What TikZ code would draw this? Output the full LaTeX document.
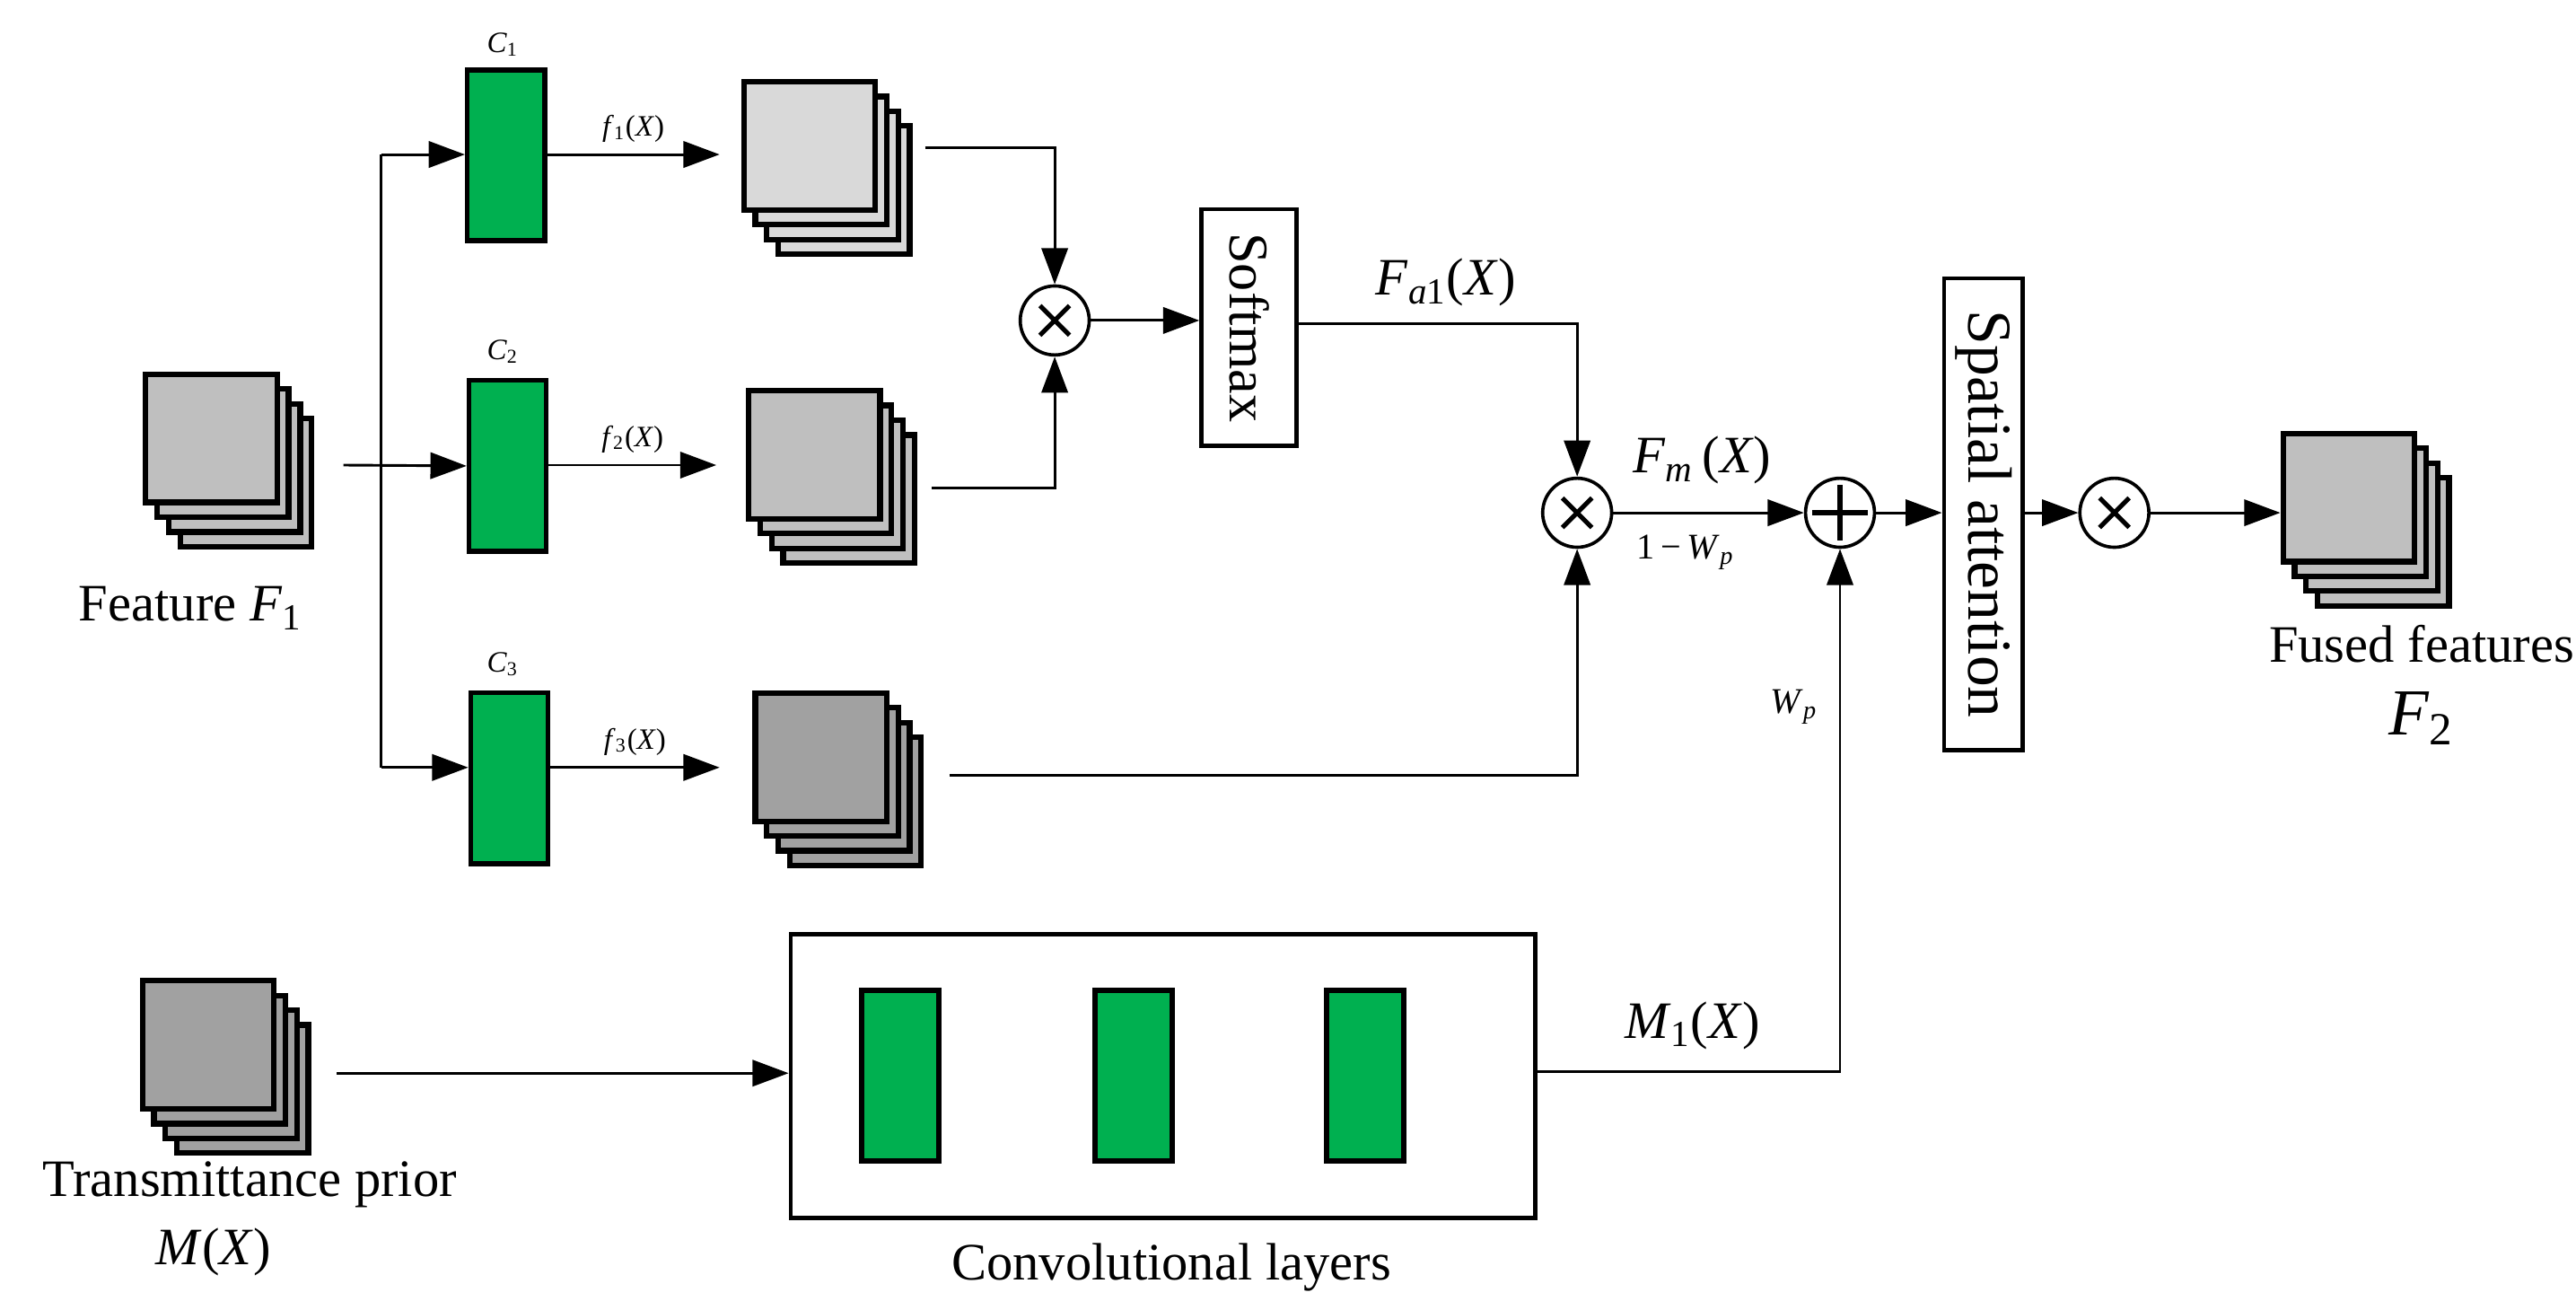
\documentclass[tikz,border=0pt]{standalone}
\usepackage{fontspec}
\setmainfont{Liberation Serif}
\usetikzlibrary{arrows.meta}
\definecolor{gA}{gray}{0.85}
\definecolor{gB}{gray}{0.75}
\definecolor{gC}{gray}{0.63}
\definecolor{grn}{RGB}{0,176,80}
\newcommand{\vv}[1]{\textit{#1}}
\newcommand{\mystack}[4]{%
  \foreach \k in {3,2,1}{\node[sheet,fill=#4] at ({#2+7*\k},{#3+9*\k}) {};}
  \node[sheet,fill=#4] (#1) at (#2,#3) {};}
\begin{document}
\begin{tikzpicture}[x=0.5pt,y=-0.5pt,
  sheet/.style={draw,line width=1.7pt,anchor=north west,minimum width=40pt,minimum height=39pt,inner sep=0pt},
  conv/.style={draw,line width=1.5pt,fill=grn,anchor=north west,minimum width=23.5pt,minimum height=52pt,inner sep=0pt},
  op/.style={draw,circle,line width=1pt,minimum size=21pt,inner sep=0pt},
  box/.style={draw,line width=1.3pt,anchor=north west,inner sep=0pt},
  ar/.style={-{Triangle[length=11pt,width=8pt]},line width=0.8pt},
  ln/.style={line width=0.8pt},
  lab/.style={font=\fontsize{16}{18}\selectfont},
  small/.style={font=\fontsize{9}{10}\selectfont}]
\useasboundingbox (0,0) rectangle (1568,797);
% stacks
\mystack{F1}{87}{226}{gB}
\mystack{S1}{451}{48}{gA}
\mystack{S2}{454}{236}{gB}
\mystack{S3}{458}{420}{gC}
\mystack{MX}{85}{595}{gC}
\mystack{F2}{1388}{262}{gB}
% green convs
\node[conv] (C1) at (283,41) {};
\node[conv] (C2) at (284,230) {};
\node[conv] (C3) at (285,420) {};
\node[small] at (306,27) {\vv{C}\textsubscript{1}};
\node[small] at (306,214) {\vv{C}\textsubscript{2}};
\node[small] at (306,404) {\vv{C}\textsubscript{3}};
% input branching
\coordinate (in) at (209,283);
\draw[ar] (in) -- (C2.west);
\draw[ln] (232,94) -- (232,467);
\draw[ar] (232,94) -- (C1.west|-0,94);
\draw[ar] (232,467) -- (C3.west|-0,467);
% f arrows
\coordinate (t1) at (438,94);
\coordinate (t2) at (436,283);
\coordinate (t3) at (438,467);
\draw[ar] (C1.east|-t1) -- (t1) node[midway,above,small]{\vv{f}\textsubscript{1}(\vv{X})};
\draw[ar] (C2.east|-t2) -- (t2) node[midway,above,small]{\vv{f}\textsubscript{2}(\vv{X})};
\draw[ar] (C3.east|-t3) -- (t3) node[midway,above,small]{\vv{f}\textsubscript{3}(\vv{X})};
% ops
\node[op] (m1) at (642,195) {};
\node[op] (m2) at (960,312) {};
\node[op] (pl) at (1120,312) {};
\node[op] (m3) at (1287,312) {};
\foreach \o in {m1,m2,m3}{\draw[line width=1.4pt]
  ([shift={(-4.5pt,-4.5pt)}]\o.center) -- ([shift={(4.5pt,4.5pt)}]\o.center)
  ([shift={(-4.5pt,4.5pt)}]\o.center) -- ([shift={(4.5pt,-4.5pt)}]\o.center);}
\draw[line width=1.6pt] ([yshift=-2.5pt]pl.north) -- ([yshift=2.5pt]pl.south) ([xshift=2.5pt]pl.west) -- ([xshift=-2.5pt]pl.east);
\node[box,minimum width=29pt,minimum height=72pt] (sm) at (730,126) {};
\node[rotate=-90,font=\fontsize{17}{18}\selectfont] at (sm.center) {Softmax};
\node[box,minimum width=24pt,minimum height=143.5pt] (sa) at (1182,168) {};
\node[rotate=-90,font=\fontsize{19}{20}\selectfont] at (sa.center) {Spatial attention};
\draw[ar] (563,90) -| (m1.north);
\draw[ar] (567,297) -| (m1.south);
\draw[ar] (m1) -- (sm.west|-m1);
\draw[ar] (sm.east|-0,197) -| (m2.north);
\draw[ar] (578,472) -| (m2.south);
\draw[ar] (m2) -- (pl);
\draw[ar] (pl) -- (sa.west|-pl);
\draw[ar] (sa.east|-m3) -- (m3);
\draw[ar] (m3) -- (F2.west|-m3);
\node[lab] at (880,172) {\vv{F}\textsubscript{\vv{a}1}(\vv{X})};
\node[lab] at (1036,280) {\vv{F}\textsubscript{\vv{m}}\,(\vv{X})};
\node[font=\fontsize{11}{12}\selectfont] at (1026,336) {1\,\textminus\,\vv{W}\textsubscript{\vv{p}}};
\node[font=\fontsize{11}{12}\selectfont] at (1092,430) {\vv{W}\textsubscript{\vv{p}}};
% conv layers
\node[box,minimum width=226.5pt,minimum height=86.5pt] (cl) at (480,567) {};
\node[conv] (k1) at (523,601) {};
\node[conv] (k2) at (665,601) {};
\node[conv] (k3) at (806,601) {};
\draw[ar] (205,653) -- (cl.west|-0,653);
\draw[ar] (cl.east|-0,652) -| (pl.south);
\node[lab] at (1030,624) {\vv{M}\textsubscript{1}(\vv{X})};
% texts
\node[lab] at (116,370) {Feature \vv{F}\textsubscript{1}};
\node[lab] at (152,721) {Transmittance prior};
\node[lab] at (130,762) {\vv{M}(\vv{X})};
\node[lab] at (713,771) {Convolutional layers};
\node[lab] at (1474,392) {Fused features};
\node[font=\fontsize{20}{22}\selectfont] at (1474,437) {\vv{F}\textsubscript{2}};
\end{tikzpicture}
\end{document}
